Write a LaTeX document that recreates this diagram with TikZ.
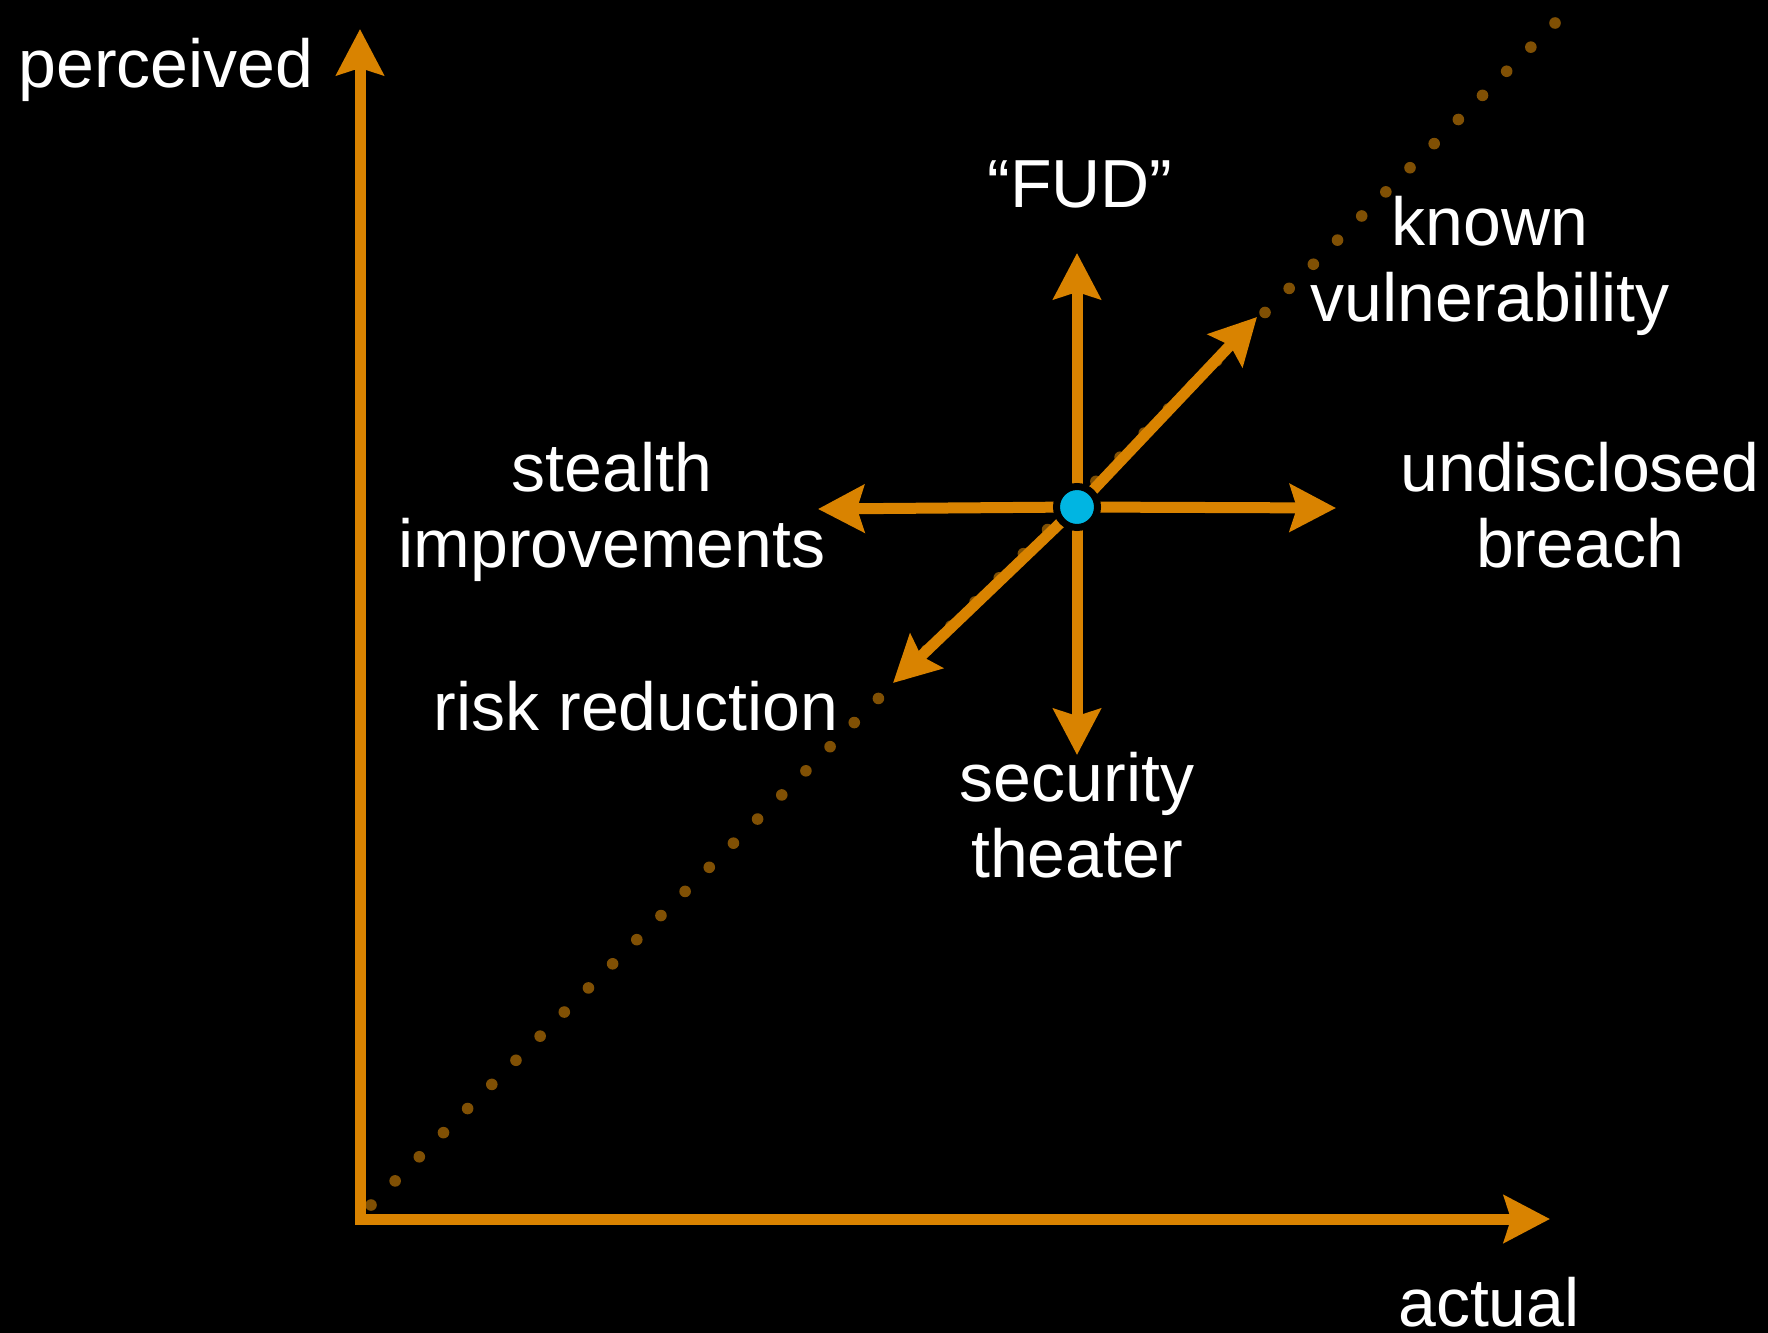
\documentclass[tikz,border=0pt]{standalone}
\usepackage{fontspec}
\setmainfont{Liberation Sans}
\usetikzlibrary{arrows.meta,calc}
\definecolor{axisorange}{RGB}{217,131,0}
\definecolor{dotbrown}{RGB}{128,80,4}
\definecolor{pointcyan}{RGB}{0,181,226}
\begin{document}
\begin{tikzpicture}[x=0.5pt,y=-0.5pt,
  axisline/.style={draw=axisorange, line width=5.5pt, {Stealth[length=23pt,width=23.5pt,inset=3.5pt]}-{Stealth[length=23pt,width=23.5pt,inset=3.5pt]}},
  move/.style={draw=axisorange, line width=5.5pt, -{Stealth[length=23pt,width=23.5pt,inset=3.5pt]}},
  lbl/.style={text=white, font=\fontsize{34}{37.75}\selectfont, align=center, inner sep=0pt, anchor=base},
  riskpoint/.style={circle, fill=pointcyan, draw=black, line width=3.5pt, minimum size=20.5pt, inner sep=0pt}]
% canvas
\fill[black] (0,0) rectangle (1768,1333);
\useasboundingbox (0,0) rectangle (1768,1333);

% axes
\coordinate (origin) at (360,1219);
\coordinate (ytip) at (360,29);
\coordinate (xtip) at (1550,1219);

% perceived = actual diagonal
\coordinate (diagA) at (371,1205);
\coordinate (diagB) at (1555,23);
\foreach \i in {0,...,49}
  \fill[dotbrown] ($(diagA)!\i/49!(diagB)$) circle (2.9pt);

\draw[axisline] (ytip) -- (origin) -- (xtip);

% movements away from the current position
\coordinate (ctr) at (1077,507);
\coordinate (toUp) at (1077,253);
\coordinate (toDown) at (1077,755);
\coordinate (toLeft) at (818,509);
\coordinate (toRight) at (1336,508);
\coordinate (toUpRight) at (1257,317);
\coordinate (toDownLeft) at (893,683);

\draw[move] (ctr) -- (toUp);
\draw[move] (ctr) -- (toDown);
\draw[move] (ctr) -- (toLeft);
\draw[move] (ctr) -- (toRight);
\draw[move] (ctr) -- (toUpRight);
\draw[move] (ctr) -- (toDownLeft);

\node[riskpoint] (pt) at (ctr) {};

% labels (multi-line labels are placed by the baseline of their last line)
\node[lbl] (perceived) at (166,87) {perceived};
\node[lbl] (actual) at (1489,1326) {actual};
\node[lbl] (fud) at (1080,207) {“FUD”};
\node[lbl] (known) at (1490,321) {known\\vulnerability};
\node[lbl] (stealth) at (612,567) {stealth\\improvements};
\node[lbl] (undisclosed) at (1580,567) {undisclosed\\breach};
\node[lbl] (riskred) at (636,730) {risk reduction};
\node[lbl] (theater) at (1077,877) {security\\theater};
\end{tikzpicture}
\end{document}
